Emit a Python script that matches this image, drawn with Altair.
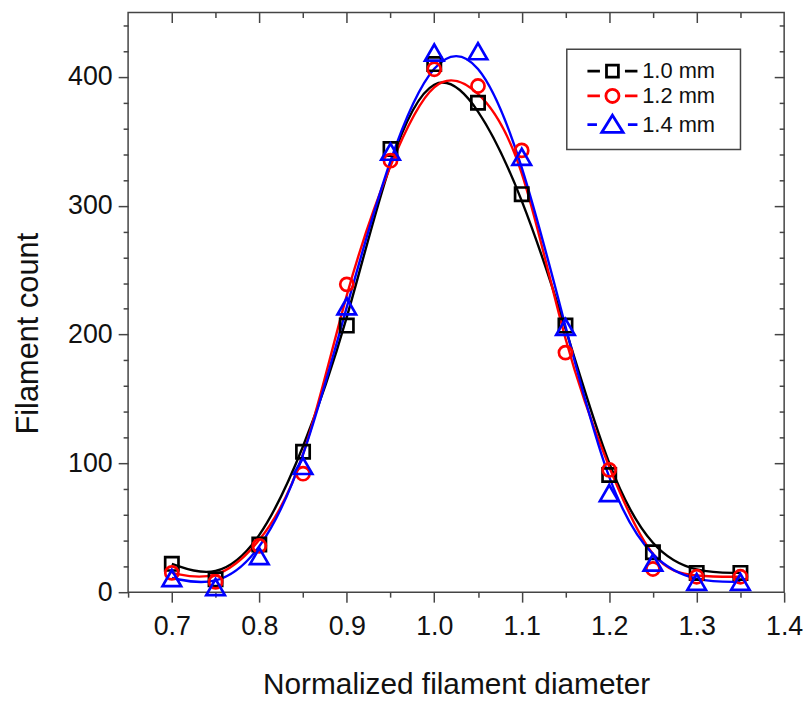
import altair as alt
import pandas as pd

# ---- data ----
diameter = [0.70, 0.75, 0.80, 0.85, 0.90, 0.95, 1.00, 1.05, 1.10, 1.15, 1.20, 1.25, 1.30, 1.35]
series = ["1.0 mm", "1.2 mm", "1.4 mm"]
count_10 = [22, 10, 37, 109, 207, 344, 410, 380, 309, 207, 91, 31, 15, 15]
count_12 = [15, 8, 36, 92, 239, 335, 406, 393, 343, 186, 95, 18, 12, 12]
count_14 = [11, 4, 28, 98, 222, 342, 419, 420, 338, 206, 77, 23, 8, 8]

x_tick_values = [0.65, 0.70, 0.75, 0.80, 0.85, 0.90, 0.95, 1.00, 1.05,
                 1.10, 1.15, 1.20, 1.25, 1.30, 1.35, 1.40]
y_tick_values = [0, 20, 40, 60, 80, 100, 120, 140, 160, 180, 200, 220, 240,
                 260, 280, 300, 320, 340, 360, 380, 400, 420, 440]

# ---- styles ----
colors = ["#000000", "#ff0000", "#0000ff"]
marker_shapes = ["square", "circle", "triangle-up"]
marker_sizes = [180, 175, 350]
# legend glyphs: dash - marker - dash (trailing move-to widens the legend frame)
legend_paths = [
    "M-4.2,0H-2.1M2.1,0H4.2M-1,-1H1V1H-1ZM18.7,0",
    "M-4.2,0H-2.1M2.1,0H4.2M1.1,0A1.1,1.1,0,1,1,-1.1,0A1.1,1.1,0,1,1,1.1,0ZM18.7,0",
    "M-4.2,0H-2.6M2.6,0H4.2M0,-1.6L1.8,1.3H-1.8ZM18.7,0",
]

rows = []
for name, counts in zip(series, [count_10, count_12, count_14]):
    for d, c in zip(diameter, counts):
        rows.append({"series": name, "d": d, "count": c})
df = pd.DataFrame(rows)

W, H = 661, 584
FONT = "Liberation Sans"

x_scale = alt.Scale(domain=[0.65, 1.4], nice=False, zero=False)
y_scale = alt.Scale(domain=[0, 450], nice=False, zero=False)

major_x = "abs(datum.value*10 - round(datum.value*10)) < 0.001"
major_y = "datum.value % 100 == 0"
tick_x = {"condition": {"test": major_x, "value": 10}, "value": 5}
tick_y = {"condition": {"test": major_y, "value": 10}, "value": 5}

common = dict(domain=False, grid=False, tickColor="#444", tickWidth=1.5)

x_bottom = alt.Axis(
    orient="bottom", values=x_tick_values, tickSize=tick_x,
    labelExpr=f"{major_x} ? format(datum.value, '.1f') : ''",
    labelFont=FONT, labelFontSize=27, labelColor="#111", labelPadding=12,
    labelOverlap=False, labelFlush=False,
    title="Normalized filament diameter", titleFont=FONT, titleFontSize=30,
    titleFontWeight="normal", titleColor="#111", titlePadding=30, **common)
y_left = alt.Axis(
    orient="left", values=y_tick_values, tickSize=tick_y,
    labelExpr=f"{major_y} ? datum.label : ''",
    labelFont=FONT, labelFontSize=27, labelColor="#111", labelPadding=6,
    labelOverlap=False, labelFlush=False,
    title="Filament count", titleFont=FONT, titleFontSize=31,
    titleFontWeight="normal", titleColor="#111", titlePadding=23,
    titleY=323, **common)
x_top = alt.Axis(orient="bottom", offset=-H, values=x_tick_values[1:-1],
                 tickSize=tick_x, labels=False, title=None, **common)
y_right = alt.Axis(orient="left", offset=-W, values=y_tick_values[1:],
                   tickSize=tick_y, labels=False, title=None, **common)

lines = alt.Chart(df).mark_line(interpolate="basis", strokeWidth=2.4).encode(
    x=alt.X("d:Q", scale=x_scale, axis=x_bottom),
    y=alt.Y("count:Q", scale=y_scale, axis=y_left),
    color=alt.Color("series:N", scale=alt.Scale(domain=series, range=colors), legend=None),
)

point_layers = []
for i, name in enumerate(series):
    xa = x_top if i == 0 else None
    ya = y_right if i == 0 else None
    p = alt.Chart(df).transform_filter(alt.datum.series == name).mark_point(
        filled=False, strokeWidth=2.7, size=marker_sizes[i],
        shape=marker_shapes[i], color=colors[i], opacity=1,
    ).encode(
        x=alt.X("d:Q", scale=x_scale, axis=xa),
        y=alt.Y("count:Q", scale=y_scale, axis=ya),
    )
    point_layers.append(p)

legend = alt.Legend(
    orient="none", legendX=442, legendY=37, title=None,
    labelFont=FONT, labelFontSize=22, labelColor="#111",
    strokeColor="#444", padding=11, rowPadding=0,
    symbolSize=144, symbolStrokeWidth=2.8,
    symbolOffset=24, labelOffset=19,
)

legend_layer = alt.Chart(df).transform_filter("false").mark_point(
    filled=False, size=144, strokeWidth=2.8, opacity=1,
).encode(
    x=alt.X("d:Q", scale=x_scale, axis=None),
    y=alt.Y("count:Q", scale=y_scale, axis=None),
    color=alt.Color("series:N", scale=alt.Scale(domain=series, range=colors),
                    legend=legend),
    shape=alt.Shape("series:N", scale=alt.Scale(domain=series, range=legend_paths),
                    legend=legend),
)

chart = (
    alt.layer(lines, *point_layers, legend_layer)
    .resolve_axis(x="independent", y="independent")
    .resolve_scale(color="independent", shape="independent")
    .properties(
        width=W, height=H,
        autosize=alt.AutoSizeParams(type="none"),
        padding={"left": 121, "top": 2, "right": 20, "bottom": 106},
        background="white",
    )
    .configure_view(stroke="#444", strokeWidth=1.5)
    .configure_legend(strokeWidth=1.5)
)

chart.save("out.html", embed_options={"renderer": "svg", "actions": False})
